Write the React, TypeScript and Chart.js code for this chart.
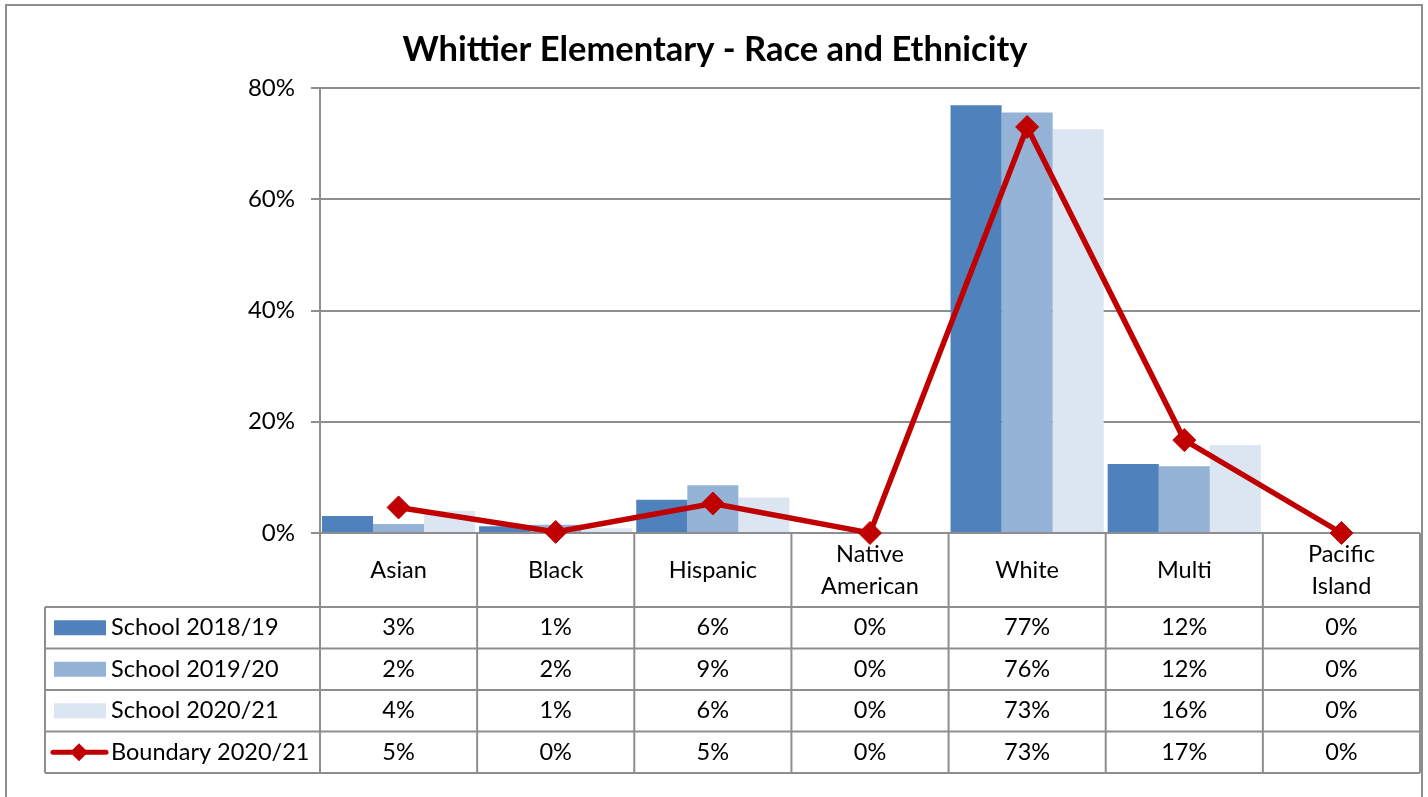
import { useEffect, useRef } from "react";
import { Chart, registerables } from "chart.js";
Chart.register(...registerables);

const TITLE = "Whittier Elementary - Race and Ethnicity";
const CATEGORIES: string[][] = [
  ["Asian"],
  ["Black"],
  ["Hispanic"],
  ["Native", "American"],
  ["White"],
  ["Multi"],
  ["Pacific", "Island"],
];
const SERIES_NAMES = ["School 2018/19", "School 2019/20", "School 2020/21", "Boundary 2020/21"];
const SCHOOL_2018 = [3.06, 1.2, 6.0, 0, 76.9, 12.4, 0];
const SCHOOL_2019 = [1.6, 1.5, 8.6, 0, 75.6, 12.0, 0];
const SCHOOL_2020 = [3.96, 0.84, 6.4, 0, 72.6, 15.8, 0];
const BOUNDARY_2020 = [4.6, 0.2, 5.3, 0, 73.0, 16.7, 0];
const Y_TICKS = [0, 20, 40, 60, 80];

const COLORS = ["#4F81BD", "#95B3D7", "#DCE6F2", "#C00000"];
const FONT = "Lato, 'Open Sans', sans-serif";
const GRID = "#8e8e8e";

const tablePlugin = {
  id: "dataTable",
  afterDraw(chart: any) {
    const ctx: CanvasRenderingContext2D = chart.ctx;
    const { left, right, bottom } = chart.chartArea;
    const n = CATEGORIES.length;
    const cw = (right - left) / n;
    const headerBottom = bottom + 74;
    const rowH = 41.5;
    const tableLeft = 45;
    const seriesData = [SCHOOL_2018, SCHOOL_2019, SCHOOL_2020, BOUNDARY_2020];
    ctx.save();
    ctx.strokeStyle = GRID;
    ctx.lineWidth = 2;
    ctx.strokeRect(6, 5, 1416, 830);
    ctx.fillStyle = "#000";
    ctx.font = `bold 34.5px ${FONT}`;
    ctx.textAlign = "center";
    ctx.textBaseline = "middle";
    ctx.fillText(TITLE, 715, 50);
    ctx.beginPath();
    for (let i = 0; i <= n; i++) {
      const x = left + i * cw;
      ctx.moveTo(x, bottom);
      ctx.lineTo(x, headerBottom + 4 * rowH);
    }
    ctx.moveTo(tableLeft, headerBottom);
    ctx.lineTo(tableLeft, headerBottom + 4 * rowH);
    for (let r = 0; r <= 4; r++) {
      const y = headerBottom + r * rowH;
      ctx.moveTo(tableLeft, y);
      ctx.lineTo(right, y);
    }
    ctx.stroke();
    ctx.font = `23.5px ${FONT}`;
    ctx.fillStyle = "#000";
    for (let i = 0; i < n; i++) {
      const cx = left + (i + 0.5) * cw;
      const lines = CATEGORIES[i];
      const cy = (bottom + headerBottom) / 2;
      lines.forEach((t, k) => {
        ctx.fillText(t, cx, cy + (k - (lines.length - 1) / 2) * 32);
      });
    }
    for (let r = 0; r < 4; r++) {
      const cy = headerBottom + (r + 0.5) * rowH;
      if (r < 3) {
        ctx.fillStyle = COLORS[r];
        ctx.fillRect(54, cy - 7.5, 52, 15);
      } else {
        ctx.strokeStyle = COLORS[3];
        ctx.lineWidth = 5;
        ctx.lineCap = "round";
        ctx.beginPath();
        ctx.moveTo(53, cy);
        ctx.lineTo(106, cy);
        ctx.stroke();
        ctx.fillStyle = COLORS[3];
        ctx.beginPath();
        ctx.moveTo(79, cy - 9);
        ctx.lineTo(88, cy);
        ctx.lineTo(79, cy + 9);
        ctx.lineTo(70, cy);
        ctx.closePath();
        ctx.fill();
      }
      ctx.fillStyle = "#000";
      ctx.textAlign = "left";
      ctx.fillText(SERIES_NAMES[r], 111, cy);
      ctx.textAlign = "center";
      for (let i = 0; i < n; i++) {
        const cx = left + (i + 0.5) * cw;
        ctx.fillText(Math.round(seriesData[r][i]) + "%", cx, cy);
      }
    }
    ctx.restore();
  },
};

export default function App() {
  const ref = useRef<HTMLCanvasElement>(null);
  useEffect(() => {
    if (!ref.current) return;
    const chart = new Chart(ref.current, {
      type: "bar",
      data: {
        labels: CATEGORIES.map((c) => c.join(" ")),
        datasets: [
          { type: "bar", label: SERIES_NAMES[0], data: SCHOOL_2018, backgroundColor: COLORS[0], categoryPercentage: 0.975, barPercentage: 1, order: 1 },
          { type: "bar", label: SERIES_NAMES[1], data: SCHOOL_2019, backgroundColor: COLORS[1], categoryPercentage: 0.975, barPercentage: 1, order: 1 },
          { type: "bar", label: SERIES_NAMES[2], data: SCHOOL_2020, backgroundColor: COLORS[2], categoryPercentage: 0.975, barPercentage: 1, order: 1 },
          {
            type: "line",
            label: SERIES_NAMES[3],
            data: BOUNDARY_2020,
            borderColor: COLORS[3],
            backgroundColor: COLORS[3],
            borderWidth: 5.5,
            pointStyle: "rectRot",
            pointRadius: 11.5,
            pointBorderWidth: 1,
            pointBorderColor: COLORS[3],
            pointBackgroundColor: COLORS[3],
            tension: 0,
            clip: false,
            order: 0,
          } as any,
        ],
      },
      options: {
        responsive: false,
        animation: false,
        layout: { autoPadding: false, padding: { top: 88, left: 0, right: 8, bottom: 264 } },
        plugins: { legend: { display: false }, tooltip: { enabled: false }, title: { display: false } },
        scales: {
          x: {
            grid: { display: false },
            border: { display: false },
            ticks: { display: false },
            afterFit(s: any) {
              s.height = 0;
              s.paddingLeft = 0;
              s.paddingRight = 0;
            },
          },
          y: {
            min: 0,
            max: 80,
            afterBuildTicks(s: any) {
              s.ticks = Y_TICKS.map((v) => ({ value: v }));
            },
            ticks: { callback: (v: any) => v + "%", color: "#000", font: { family: FONT, size: 24 }, padding: 16 },
            grid: { color: GRID, lineWidth: 2, tickLength: 9 },
            border: { color: GRID, width: 2 },
            afterFit(s: any) {
              s.width = 320;
            },
          },
        },
      },
      plugins: [tablePlugin],
    });
    return () => chart.destroy();
  }, []);
  return (
    <div style={{ position: "absolute", left: 0, top: 0, width: 1428, height: 797, background: "#fff" }}>
      <canvas ref={ref} width={1428} height={797} style={{ display: "block" }} />
    </div>
  );
}
